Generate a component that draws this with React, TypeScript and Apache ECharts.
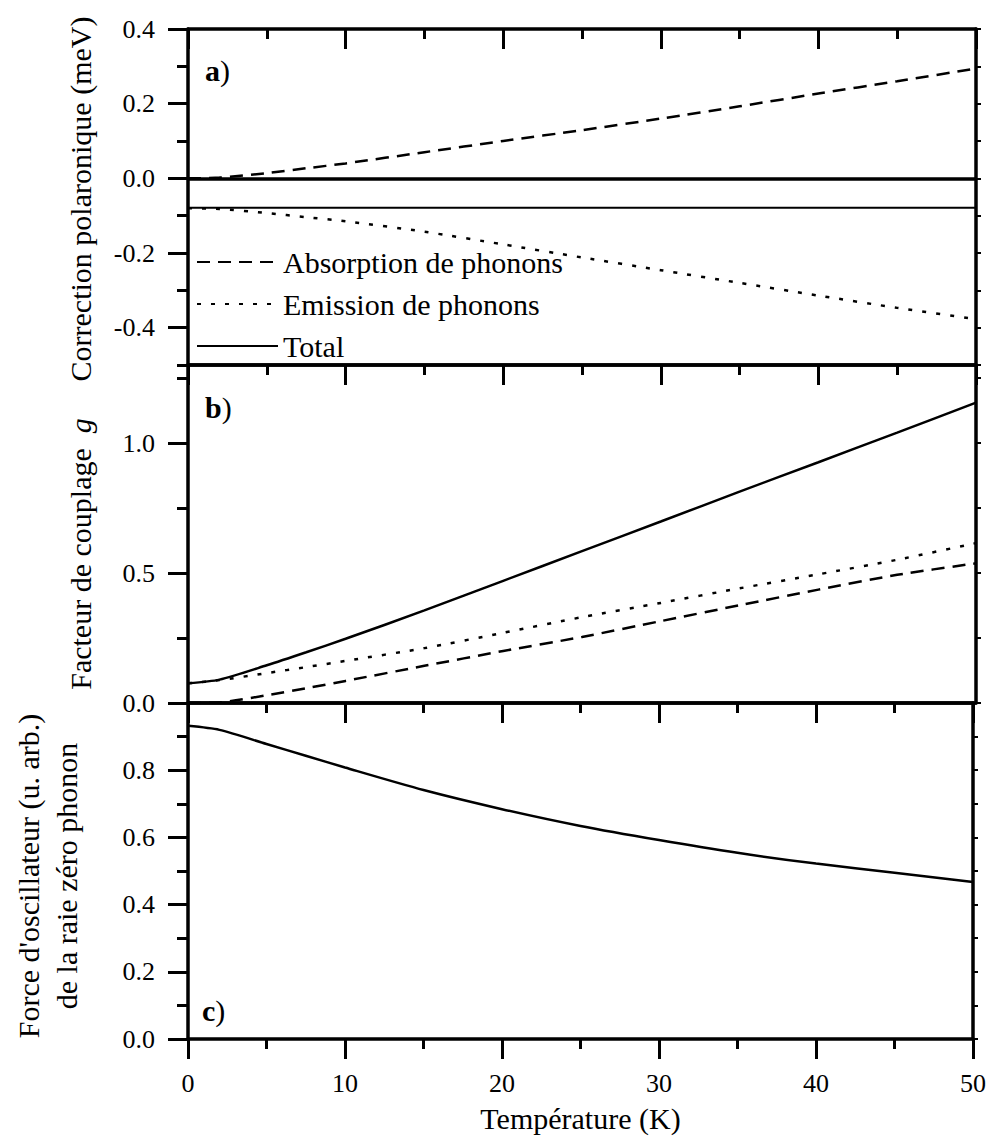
import React, { useEffect, useRef } from "react";
import * as echarts from "echarts";

// Temperature (K)
const temps = [0, 2, 5, 7.5, 10, 15, 20, 25, 30, 35, 40, 45, 50];
// Panel a) Correction polaronique (meV)
const absA = [0, 0.002, 0.014, 0.027, 0.04, 0.07, 0.1, 0.129, 0.16, 0.193, 0.227, 0.26, 0.294];
const emA = [-0.08, -0.082, -0.093, -0.104, -0.115, -0.143, -0.177, -0.212, -0.246, -0.28, -0.314, -0.347, -0.377];
const totA = [-0.079, -0.079, -0.079, -0.079, -0.079, -0.079, -0.079, -0.079, -0.079, -0.079, -0.079, -0.079, -0.079];
// Panel b) Facteur de couplage g
const totB = [0.076, 0.09, 0.145, 0.195, 0.247, 0.356, 0.47, 0.584, 0.698, 0.813, 0.926, 1.04, 1.155];
const emB = [0.076, 0.088, 0.115, 0.138, 0.162, 0.211, 0.27, 0.33, 0.385, 0.441, 0.495, 0.551, 0.615];
const absB = [0, 0.002, 0.03, 0.057, 0.085, 0.143, 0.2, 0.254, 0.315, 0.376, 0.436, 0.493, 0.537];
// Panel c) Force d'oscillateur
const oscC = [0.932, 0.92, 0.878, 0.843, 0.808, 0.741, 0.684, 0.634, 0.592, 0.554, 0.522, 0.495, 0.467];

// Tick values
const xMajorInterval = 10;
const aMajor = [-0.4, -0.2, 0, 0.2, 0.4];
const aMinor = [-0.5, -0.3, -0.1, 0.1, 0.3];
const bMajor = [0, 0.5, 1.0];
const bMinor = [0.25, 0.75, 1.25];
const cMajor = [0, 0.2, 0.4, 0.6, 0.8];
const cMinor = [0.1, 0.3, 0.5, 0.7, 0.9, 1.0];

const legendNames = ["Absorption de phonons", "Emission de phonons", "Total"];

const FONT = "Liberation Serif";
const AXW = 3.5;
const TKW = 3;

const pair = (ys: number[]) => temps.map((t, i) => [t, ys[i]]);

export default function App() {
  const ref = useRef<HTMLDivElement>(null);
  useEffect(() => {
    if (!ref.current) return;
    const chart = echarts.init(ref.current, undefined, { renderer: "svg" });

    const grids = [
      { left: 188, width: 788, top: 29, height: 336 },
      { left: 188, width: 788, top: 365, height: 338 },
      { left: 188, width: 788, top: 703, height: 336 },
    ];

    const xAxes: any[] = [];
    grids.forEach((_, gi) => {
      const isLast = gi === 2;
      xAxes.push({
        type: "value",
        gridIndex: gi,
        position: "bottom",
        min: 0,
        max: 50,
        interval: xMajorInterval,
        splitLine: { show: false },
        axisLine: { show: true, onZero: false, lineStyle: { color: "#000", width: AXW } },
        axisTick: { show: isLast, inside: false, length: 20, lineStyle: { color: "#000", width: TKW } },
        minorTick: { show: isLast, splitNumber: 2, length: 10, lineStyle: { color: "#000", width: TKW } },
        minorSplitLine: { show: false },
        axisLabel: {
          show: isLast,
          margin: 31,
          color: "#000",
          fontSize: 26,
          fontFamily: FONT,
        },
        name: isLast ? "Température (K)" : "",
        nameLocation: "middle",
        nameGap: 64,
        nameTextStyle: { color: "#000", fontSize: 30, fontFamily: FONT },
      });
      xAxes.push({
        type: "value",
        gridIndex: gi,
        position: "top",
        min: 0,
        max: 50,
        interval: xMajorInterval,
        splitLine: { show: false },
        axisLine: { show: true, onZero: false, lineStyle: { color: "#000", width: AXW } },
        axisTick: { show: true, inside: true, length: 20, lineStyle: { color: "#000", width: TKW } },
        minorTick: { show: true, splitNumber: 2, length: 10, lineStyle: { color: "#000", width: TKW } },
        axisLabel: { show: false },
      });
    });

    const yDefs = [
      { min: -0.5, max: 0.4, major: aMajor, minor: aMinor },
      { min: 0, max: 1.3, major: bMajor, minor: bMinor },
      { min: 0, max: 1.0, major: cMajor, minor: cMinor },
    ];
    const yAxes: any[] = [];
    yDefs.forEach((d, gi) => {
      yAxes.push({
        type: "value",
        gridIndex: gi,
        position: "left",
        min: d.min,
        max: d.max,
        splitLine: { show: false },
        axisLine: { show: true, onZero: false, lineStyle: { color: "#000", width: AXW } },
        axisTick: { show: true, inside: false, length: 20, customValues: d.major, lineStyle: { color: "#000", width: TKW } },
        axisLabel: {
          show: true,
          customValues: d.major,
          margin: 33,
          color: "#000",
          fontSize: 26,
          fontFamily: FONT,
          formatter: (v: number) => v.toFixed(1),
        },
      });
      yAxes.push({
        type: "value",
        gridIndex: gi,
        position: "left",
        min: d.min,
        max: d.max,
        splitLine: { show: false },
        axisLine: { show: false },
        axisTick: { show: true, inside: false, length: 11, customValues: d.minor, lineStyle: { color: "#000", width: TKW } },
        axisLabel: { show: false },
      });
      yAxes.push({
        type: "value",
        gridIndex: gi,
        position: "right",
        min: d.min,
        max: d.max,
        splitLine: { show: false },
        axisLine: { show: true, onZero: false, lineStyle: { color: "#000", width: AXW } },
        axisTick: {
          show: true,
          inside: false,
          length: 5,
          customValues: [...d.major, ...d.minor],
          lineStyle: { color: "#000", width: 2 },
        },
        axisLabel: { show: false },
      });
    });

    const lineBase = {
      type: "line",
      symbol: "none",
      showSymbol: false,
      smooth: 0.25,
      silent: true,
    };
    const dashed = [13, 8];
    const dotted = [4, 10];

    const series: any[] = [
      {
        ...lineBase,
        name: legendNames[0],
        xAxisIndex: 0,
        yAxisIndex: 0,
        data: pair(absA),
        lineStyle: { color: "#000", width: 2.5, type: dashed },
        markLine: {
          silent: true,
          symbol: "none",
          label: { show: false },
          lineStyle: { color: "#000", width: 3.5, type: "solid" },
          data: [{ yAxis: 0 }],
        },
      },
      {
        ...lineBase,
        name: legendNames[1],
        xAxisIndex: 0,
        yAxisIndex: 0,
        data: pair(emA),
        lineStyle: { color: "#000", width: 2.5, type: dotted },
      },
      {
        ...lineBase,
        name: legendNames[2],
        xAxisIndex: 0,
        yAxisIndex: 0,
        data: pair(totA),
        lineStyle: { color: "#000", width: 2, type: "solid" },
      },
      {
        ...lineBase,
        name: "g total",
        xAxisIndex: 2,
        yAxisIndex: 3,
        data: pair(totB),
        lineStyle: { color: "#000", width: 2.5, type: "solid" },
      },
      {
        ...lineBase,
        name: "g emission",
        xAxisIndex: 2,
        yAxisIndex: 3,
        data: pair(emB),
        lineStyle: { color: "#000", width: 2.5, type: dotted },
      },
      {
        ...lineBase,
        name: "g absorption",
        xAxisIndex: 2,
        yAxisIndex: 3,
        data: pair(absB),
        lineStyle: { color: "#000", width: 2.5, type: dashed },
      },
      {
        ...lineBase,
        name: "force",
        xAxisIndex: 4,
        yAxisIndex: 6,
        data: pair(oscC),
        lineStyle: { color: "#000", width: 2.5, type: "solid" },
      },
    ];

    const panelLabel = (txt: string, x: number, y: number) => ({
      type: "text",
      x,
      y,
      style: {
        text: `{b|${txt}}{r|)}`,
        verticalAlign: "middle",
        align: "left",
        fill: "#000",
        fontSize: 30,
        fontFamily: FONT,
        rich: {
          b: { fontWeight: "bold", fontSize: 30, fontFamily: FONT, fill: "#000" },
          r: { fontSize: 30, fontFamily: FONT, fill: "#000" },
        },
      },
    });

    const yTitle = (text: string, x: number, y: number, rich?: any) => ({
      type: "text",
      x,
      y,
      rotation: Math.PI / 2,
      style: {
        text,
        align: "center",
        verticalAlign: "middle",
        fill: "#000",
        fontSize: 30,
        fontFamily: FONT,
        lineHeight: 38,
        rich,
      },
    });

    chart.setOption({
      animation: false,
      backgroundColor: "#fff",
      textStyle: { fontFamily: FONT, color: "#000" },
      grid: grids,
      xAxis: xAxes,
      yAxis: yAxes,
      legend: {
        data: legendNames,
        orient: "vertical",
        left: 191,
        top: 242,
        itemWidth: 81,
        itemHeight: 30,
        itemGap: 12,
        selectedMode: false,
        itemStyle: { opacity: 0, borderWidth: 0 },
        textStyle: { color: "#000", fontSize: 30, fontFamily: FONT },
      },
      graphic: [
        panelLabel("a", 205, 70),
        panelLabel("b", 205, 407),
        panelLabel("c", 202, 1010),
        yTitle("Correction polaronique (meV)", 80, 199),
        yTitle("{n|Facteur de couplage  }{i|g}", 80, 554, {
          n: { fontSize: 30, fontFamily: FONT, fill: "#000" },
          i: { fontSize: 30, fontFamily: FONT, fontStyle: "italic", fill: "#000" },
        }),
        yTitle("Force d'oscillateur (u. arb.)\nde la raie zéro phonon", 47, 876),
      ],
      series,
    });

    return () => chart.dispose();
  }, []);

  return (
    <div
      ref={ref}
      style={{ position: "absolute", left: 0, top: 0, width: 989, height: 1140, background: "#fff" }}
    />
  );
}
